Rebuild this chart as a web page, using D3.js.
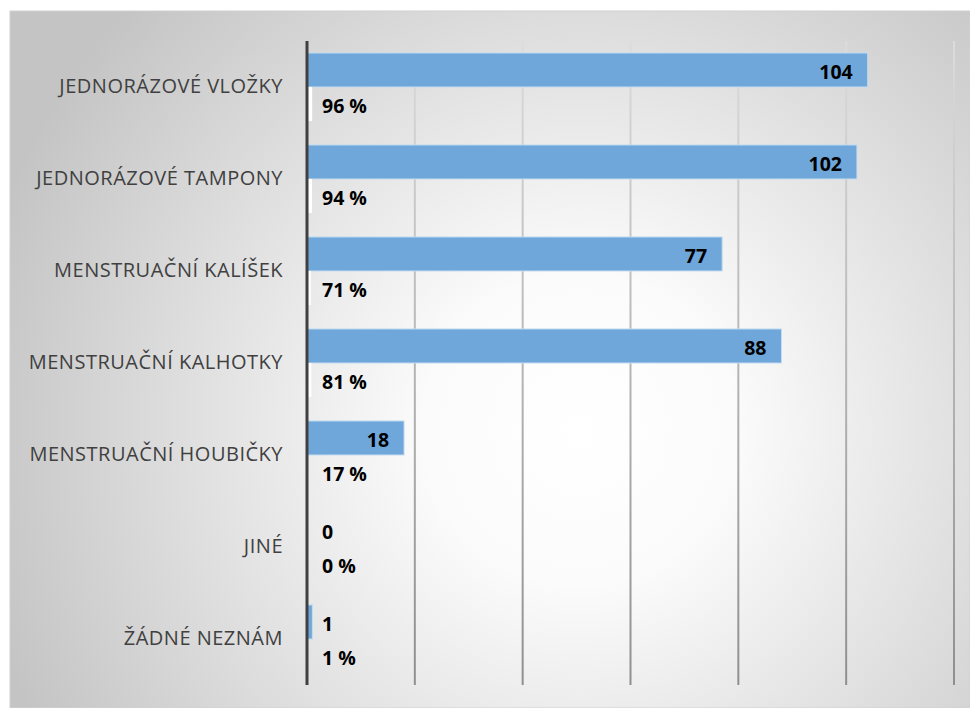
<!DOCTYPE html>
<html>
<head>
<meta charset="utf-8">
<script src="https://cdn.jsdelivr.net/npm/d3@7"></script>
<style>
html,body{margin:0;padding:0;background:#fff;}
svg{display:block;}
</style>
</head>
<body>
<svg id="chart" width="970" height="708"></svg>
<script>
const categories = ["JEDNORÁZOVÉ VLOŽKY","JEDNORÁZOVÉ TAMPONY","MENSTRUAČNÍ KALÍŠEK","MENSTRUAČNÍ KALHOTKY","MENSTRUAČNÍ HOUBIČKY","JINÉ","ŽÁDNÉ NEZNÁM"];
const counts = [104,102,77,88,18,0,1];
const shares = [0.96,0.94,0.71,0.81,0.17,0.00,0.01];
const shareLabels = ["96 %","94 %","71 %","81 %","17 %","0 %","1 %"];
const xTicks = [0,20,40,60,80,100,120];

const svg = d3.select("#chart");
const defs = svg.append("defs");
const rg = defs.append("radialGradient").attr("id","bg")
  .attr("gradientUnits","userSpaceOnUse").attr("cx",580).attr("cy",430).attr("r",620);
rg.append("stop").attr("offset","0").attr("stop-color","#ffffff");
rg.append("stop").attr("offset","0.25").attr("stop-color","#fbfbfb");
rg.append("stop").attr("offset","1").attr("stop-color","#c4c4c4");
const gg = defs.append("linearGradient").attr("id","grid")
  .attr("gradientUnits","userSpaceOnUse").attr("x1",0).attr("y1",41).attr("x2",0).attr("y2",685);
gg.append("stop").attr("offset","0").attr("stop-color","#dcdcdc");
gg.append("stop").attr("offset","1").attr("stop-color","#8f8f8f");

svg.append("rect").attr("x",10).attr("y",11).attr("width",960).attr("height",697)
  .attr("fill","url(#bg)").attr("stroke","#d0d0d0").attr("stroke-width",1);

const x = d3.scaleLinear().domain([0,120]).range([307,954]);
const y = d3.scaleBand().domain(categories).range([41,685]).paddingInner(0.26).paddingOuter(0.13);
const ySub = d3.scaleBand().domain(["count","share"]).range([0,y.bandwidth()]);

// gridlines
svg.append("g").selectAll("line").data(xTicks.slice(1)).join("line")
  .attr("x1",d=>x(d)).attr("x2",d=>x(d)).attr("y1",41).attr("y2",685)
  .attr("stroke","url(#grid)").attr("stroke-width",2);

const rows = svg.append("g").selectAll("g").data(categories).join("g")
  .attr("transform",d=>`translate(0,${y(d)})`);

// count bars
rows.append("rect")
  .attr("x",x(0)).attr("y",ySub("count"))
  .attr("width",(d,i)=>x(counts[i])-x(0)).attr("height",ySub.bandwidth())
  .attr("fill","#6fa7da").attr("stroke","#c5dcf0").attr("stroke-width",1)
  .attr("display",(d,i)=>counts[i]>0?null:"none");
// share bars
rows.append("rect")
  .attr("x",x(0)).attr("y",ySub("share"))
  .attr("width",(d,i)=>x(shares[i])-x(0)).attr("height",ySub.bandwidth())
  .attr("fill","#ffffff");

// count labels
rows.append("text")
  .attr("x",(d,i)=> x(counts[i])-x(0) > 40 ? x(counts[i]) - 15 : x(0)+15)
  .attr("text-anchor",(d,i)=> x(counts[i])-x(0) > 40 ? "end" : "start")
  .attr("y",ySub("count")+ySub.bandwidth()/2+2).attr("dy","0.35em")
  .attr("font-family","'Open Sans', sans-serif").attr("font-weight","bold").attr("font-size",19.5)
  .attr("fill","#000").text((d,i)=>counts[i]);
// share labels
rows.append("text")
  .attr("x",x(0)+15).attr("text-anchor","start")
  .attr("y",ySub("share")+ySub.bandwidth()/2+2).attr("dy","0.35em")
  .attr("font-family","'Open Sans', sans-serif").attr("font-weight","bold").attr("font-size",19.5)
  .attr("fill","#000").text((d,i)=>shareLabels[i]);

// category axis
const yAxis = d3.axisLeft(y).tickSize(0).tickPadding(24);
const ax = svg.append("g").attr("transform",`translate(${x(0)},0)`).call(yAxis);
ax.select(".domain").remove();
ax.selectAll("text").attr("font-family","'Open Sans', sans-serif").attr("font-size",20)
  .attr("letter-spacing","0.5px").attr("fill","#404040");
svg.append("line").attr("x1",x(0)).attr("x2",x(0)).attr("y1",41).attr("y2",685)
  .attr("stroke","#404040").attr("stroke-width",3);
</script>
</body>
</html>
